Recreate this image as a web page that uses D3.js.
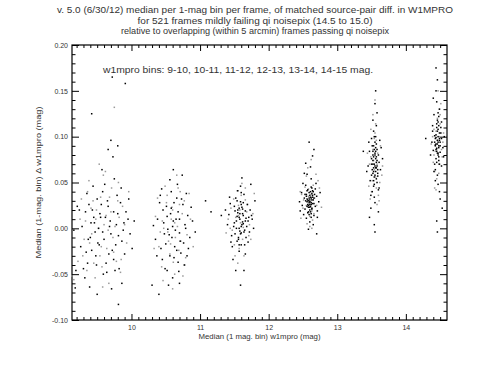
<!DOCTYPE html>
<html>
<head>
<meta charset="utf-8">
<script src="https://cdn.jsdelivr.net/npm/d3@7"></script>
<style>
  body { margin: 0; background: #fff; }
  text { font-family: "Liberation Sans", Arial, sans-serif; fill: #333; }
</style>
</head>
<body>
<div id="chart"></div>
<script>

// title + labels
const titleLines = [
  "v. 5.0 (6/30/12) median per 1-mag bin per frame, of matched source-pair diff. in W1MPRO",
  "for 521 frames mildly failing qi noisepix (14.5 to 15.0)",
  "relative to overlapping (within 5 arcmin) frames passing qi noisepix"
]
const legendText = "w1mpro bins: 9-10, 10-11, 11-12, 12-13, 13-14, 14-15 mag."
const xTitle = "Median (1 mag. bin) w1mpro (mag)"
const yTitle = "Median (1-mag. bin) \u0394 w1mpro (mag)"

const xTicks = [10, 11, 12, 13, 14]
const yTicks = [-0.10, -0.05, 0.00, 0.05, 0.10, 0.15, 0.20]
const yTickLabels = ["-0.10", "-0.05", "0.00", "0.05", "0.10", "0.15", "0.20"]

// points: [median w1mpro, median diff], black and grey per bin
const bin1Black = [[9.55,0.012],[9.70,-0.006],[9.42,-0.024],[9.78,0.004],[9.33,0.018],[9.74,-0.034],[9.50,0.032],[9.86,-0.014],[9.40,-0.010],[9.66,0.024],
  [9.28,0.002],[9.80,0.016],[9.53,-0.018],[9.95,0.010],[9.46,0.006],[9.72,-0.024],[9.36,-0.038],[9.84,0.028],[9.58,0.040],[9.26,-0.020],
  [9.64,-0.048],[9.90,-0.028],[9.44,0.046],[9.75,0.054],[9.32,-0.054],[9.82,-0.044],[9.52,0.000],[9.98,-0.006],[9.24,0.020],[9.60,-0.012],
  [9.79,0.036],[9.38,0.026],[9.48,-0.030],[9.92,0.018],[9.68,0.002],[9.45,0.012],[9.30,-0.044],[9.86,-0.060],[9.57,0.064],[9.96,0.032],
  [9.39,-0.064],[9.73,0.078],[9.66,0.086],[9.21,0.024],[10.01,-0.022],[9.50,-0.072],[9.85,0.044],[9.35,0.038],[9.63,-0.038],[9.56,0.026],
  [9.77,-0.018],[9.47,-0.004],[9.69,0.008],[9.34,-0.026],[9.88,-0.002],[9.59,-0.050],[9.19,-0.046],[9.71,-0.066],[9.16,-0.002],[10.04,0.008],
  [9.65,0.030],[9.41,0.006],[9.81,-0.008],[9.54,0.016],[9.76,-0.046],[9.62,0.012],[9.51,-0.016],[9.67,-0.028],[9.43,0.020],[9.89,0.006],
  [9.58,-0.004],[9.74,0.018],[9.49,-0.040],[9.61,0.048],[9.37,-0.012],
  [9.72,0.165],[9.91,0.158],[9.42,0.125],[9.81,-0.083],[9.18,-0.065],[9.70,0.096],[9.80,0.090]]
const bin1Grey = [[9.60,0.004],[9.49,0.020],[9.73,-0.010],[9.39,-0.016],[9.82,0.012],[9.54,-0.030],[9.68,0.034],[9.33,0.008],[9.78,-0.036],[9.44,0.030],
  [9.57,-0.042],[9.87,0.024],[9.29,-0.030],[9.71,0.044],[9.52,0.000],[9.93,-0.016],[9.36,0.040],[9.64,-0.022],[9.80,0.030],[9.25,0.010],
  [9.47,-0.054],[9.70,0.018],[9.42,-0.006],[9.84,-0.048],[9.59,0.058],[9.22,-0.036],[9.96,0.040],[9.38,0.052],[9.67,-0.060],[9.53,0.070],
  [9.76,0.002],[9.31,-0.012],[9.63,0.014],[9.45,-0.038],[9.90,0.004],[9.13,-0.052],[9.16,-0.056],[9.56,-0.020],[9.81,0.050],[9.41,0.022],
  [9.66,-0.002],[9.55,0.034],[9.35,-0.046],[9.74,-0.026],[9.48,0.010],[9.75,0.132],[9.62,0.062],[9.85,-0.034],[9.27,0.032],[9.58,-0.064]]

const bin2Black = [[10.60,0.002],[10.71,-0.014],[10.52,0.013],[10.79,0.000],[10.43,-0.022],[10.68,0.018],[10.56,-0.030],[10.85,-0.010],[10.47,0.006],[10.75,0.026],
  [10.63,-0.020],[10.38,0.010],[10.55,-0.007],[10.82,0.014],[10.66,0.033],[10.45,-0.034],[10.72,-0.027],[10.89,0.008],[10.35,-0.012],[10.61,0.008],
  [10.51,0.024],[10.77,-0.040],[10.58,0.040],[10.69,-0.047],[10.41,0.028],[10.83,-0.022],[10.49,-0.044],[10.67,0.048],[10.93,-0.004],[10.32,0.003],
  [10.60,-0.054],[10.74,0.058],[10.54,-0.062],[10.64,-0.002],[10.46,0.020],[10.80,0.038],[10.37,-0.030],[10.70,-0.005],[10.57,0.016],[10.76,-0.016],
  [10.50,-0.017],[10.62,0.028],[10.87,0.023],[10.42,0.036],[10.68,-0.037],[10.56,0.053],[10.30,-0.062],[10.40,-0.072],[10.70,-0.060],[11.08,0.030],
  [10.65,0.010],[10.53,-0.001],[10.78,0.004],[10.59,-0.010],[10.48,-0.006],[10.73,0.032],[10.62,-0.032],[10.44,0.043],[11.16,0.018],[10.66,-0.024],
  [10.58,0.022],[10.81,-0.030],[10.52,-0.046],[10.70,0.010],[10.61,0.064]]
const bin2Grey = [[10.63,0.006],[10.54,-0.014],[10.74,0.016],[10.47,0.000],[10.69,-0.024],[10.59,0.023],[10.81,-0.007],[10.40,-0.020],[10.61,-0.037],[10.77,0.030],
  [10.51,0.028],[10.67,0.002],[10.35,0.013],[10.56,-0.028],[10.86,0.010],[10.44,-0.042],[10.71,0.040],[10.63,-0.050],[10.49,0.046],[10.79,-0.032],
  [10.33,-0.022],[10.58,0.010],[10.72,-0.014],[10.53,-0.004],[10.90,-0.020],[10.66,0.058],[10.38,0.033],[10.75,-0.052],[10.60,0.020],[10.46,-0.057],
  [10.70,0.026],[10.57,-0.017],[10.84,0.038],[10.45,0.008],[10.64,-0.010],[10.52,0.036],[10.78,-0.040],[10.68,0.044],[10.42,-0.004],[10.60,-0.066]]

const bin3Black = [[11.58,0.010],[11.65,-0.002],[11.51,0.019],[11.70,0.008],[11.46,-0.008],[11.61,0.023],[11.54,-0.014],[11.75,0.014],[11.49,0.002],[11.67,-0.010],
  [11.59,0.029],[11.42,0.015],[11.72,-0.004],[11.52,0.033],[11.63,0.005],[11.47,-0.020],[11.69,0.026],[11.57,-0.025],[11.78,0.000],[11.40,0.004],
  [11.64,0.037],[11.51,-0.006],[11.60,-0.018],[11.73,0.020],[11.44,0.027],[11.55,0.041],[11.66,-0.028],[11.59,0.046],[11.48,-0.034],[11.71,0.012],
  [11.37,0.020],[11.80,0.030],[11.57,0.000],[11.62,0.016],[11.53,0.008],[11.68,0.002],[11.45,-0.015],[11.60,-0.005],[11.55,0.017],[11.70,-0.015],
  [11.52,-0.046],[11.64,-0.046],[11.59,-0.062],[11.31,0.014],[11.61,0.055],[11.74,0.048],[11.50,0.024],[11.66,0.019],[11.56,-0.010],[11.67,0.011],
  [11.62,0.007],[11.54,0.013],[11.58,-0.003],[11.63,0.028],[11.50,0.006],[11.76,0.010],[11.57,0.022],[11.65,-0.018],[11.43,0.034],[11.60,0.039],
  [11.57,0.012],[11.61,0.004],[11.55,0.020],[11.63,0.014],[11.59,-0.006],[11.53,0.000],[11.66,0.008],[11.60,0.026],[11.56,-0.012],[11.62,0.021],
  [11.58,0.016],[11.64,-0.004],[11.54,0.030],[11.60,0.002],[11.57,-0.018]]
const bin3Grey = [[11.59,0.006],[11.52,0.012],[11.68,0.018],[11.47,-0.002],[11.62,-0.012],[11.72,0.004],[11.56,0.025],[11.41,0.010],[11.66,0.031],[11.50,-0.018],
  [11.60,0.036],[11.71,-0.008],[11.57,-0.022],[11.45,0.022],[11.77,0.016],[11.54,0.041],[11.64,-0.030],[11.38,-0.005],[11.61,0.049],[11.49,0.032],
  [11.69,0.026],[11.56,0.014],[11.79,0.038],[11.51,-0.030],[11.63,0.001],[11.58,0.020],[11.74,-0.012],[11.44,0.000],[11.66,0.044],[11.55,-0.038]]

const bin4Black = [[12.60,0.031],[12.66,0.027],[12.53,0.037],[12.63,0.021],[12.56,0.029],[12.70,0.035],[12.49,0.025],[12.64,0.041],[12.57,0.017],[12.68,0.024],
  [12.52,0.033],[12.62,0.045],[12.55,0.011],[12.73,0.029],[12.46,0.019],[12.59,0.039],[12.66,0.014],[12.54,0.047],[12.63,0.031],[12.58,0.023],
  [12.71,0.019],[12.48,0.039],[12.60,0.007],[12.68,0.043],[12.51,0.015],[12.62,0.054],[12.56,0.059],[12.65,0.004],[12.45,0.029],[12.75,0.039],
  [12.61,0.067],[12.54,0.071],[12.64,0.079],[12.58,-0.001],[12.70,-0.006],[12.62,0.028],[12.55,0.035],[12.64,0.034],[12.60,0.026],[12.58,0.030],
  [12.67,0.037],[12.53,0.021],[12.61,0.018],[12.69,0.049],[12.50,0.049],[12.59,0.033],[12.63,0.038],[12.57,0.026],[12.61,0.024],[12.65,0.031],
  [12.56,0.041],[12.62,0.012],[12.59,0.094],[12.66,0.086],[12.52,0.060],[12.71,0.012],
  [12.59,0.028],[12.62,0.033],[12.57,0.031],[12.64,0.027],[12.60,0.036],[12.56,0.024],[12.63,0.022],[12.61,0.040],[12.58,0.018],[12.66,0.033],
  [12.54,0.030],[12.60,0.020],[12.62,0.026],[12.57,0.042],[12.65,0.040],[12.59,0.015],[12.61,0.034],[12.55,0.037],[12.63,0.044],[12.60,0.029],
  [12.58,0.025],[12.62,0.016],[12.56,0.032],[12.64,0.036],[12.60,0.023]]
const bin4Grey = [[12.61,0.029],[12.55,0.025],[12.67,0.033],[12.51,0.031],[12.63,0.019],[12.58,0.043],[12.70,0.025],[12.48,0.037],[12.60,0.013],[12.65,0.047],
  [12.56,0.005],[12.74,0.044],[12.53,0.045],[12.62,0.037],[12.47,0.011],[12.69,0.059],[12.55,0.057],[12.77,0.023],[12.60,0.002],[12.64,0.009],
  [12.58,0.035],[12.66,0.016],[12.50,0.022],[12.72,0.052],[12.57,0.066],[12.62,0.075],[12.46,0.040],[12.63,0.000]]

const bin5Black = [[13.55,0.068],[13.59,0.057],[13.50,0.076],[13.56,0.084],[13.52,0.060],[13.61,0.072],[13.48,0.052],[13.57,0.092],[13.53,0.046],[13.63,0.064],
  [13.45,0.068],[13.56,0.100],[13.51,0.040],[13.60,0.080],[13.54,0.034],[13.64,0.088],[13.47,0.084],[13.58,0.050],[13.50,0.098],[13.53,0.106],
  [13.61,0.044],[13.43,0.062],[13.66,0.076],[13.55,0.028],[13.57,0.112],[13.52,0.118],[13.58,0.126],[13.55,0.136],[13.49,0.022],[13.60,0.018],
  [13.54,0.004],[13.47,0.012],[13.55,-0.004],[13.38,0.084],[13.56,0.066],[13.52,0.070],[13.59,0.064],[13.53,0.078],[13.50,0.058],[13.58,0.074],
  [13.54,0.086],[13.57,0.054],[13.51,0.090],[13.62,0.096],[13.49,0.036],[13.56,0.150],[13.53,0.062],[13.60,0.042],[13.46,0.094],[13.55,0.080],
  [13.54,0.070],[13.56,0.062],[13.52,0.074],[13.57,0.078],[13.53,0.066],[13.55,0.082],[13.51,0.064],[13.58,0.068],[13.54,0.056],[13.56,0.088],
  [13.52,0.080],[13.59,0.060],[13.55,0.094],[13.53,0.052],[13.57,0.072],[13.50,0.070],[13.56,0.076],[13.54,0.048],[13.58,0.086],[13.53,0.090],
  [13.55,0.058],[13.57,0.066],[13.52,0.084],[13.54,0.100]]
const bin5Grey = [[13.54,0.064],[13.58,0.070],[13.49,0.078],[13.56,0.056],[13.52,0.086],[13.62,0.050],[13.46,0.046],[13.57,0.096],[13.55,0.104],[13.50,0.040],
  [13.63,0.090],[13.48,0.032],[13.56,0.114],[13.52,0.124],[13.60,0.036],[13.44,0.082],[13.55,0.140],[13.58,0.026],[13.65,0.058],[13.49,0.108],
  [13.53,0.074],[13.59,0.082],[13.51,0.052],[13.61,0.030],[13.47,0.070],[13.57,0.044],[13.54,0.098],[13.66,0.068]]

const bin6Black = [[14.46,0.092],[14.50,0.083],[14.42,0.101],[14.47,0.108],[14.44,0.076],[14.52,0.098],[14.40,0.085],[14.49,0.070],[14.45,0.114],[14.54,0.088],
  [14.38,0.094],[14.48,0.122],[14.43,0.064],[14.51,0.104],[14.46,0.058],[14.55,0.078],[14.39,0.106],[14.49,0.130],[14.42,0.070],[14.52,0.116],
  [14.45,0.138],[14.47,0.048],[14.36,0.080],[14.56,0.100],[14.44,0.150],[14.49,0.040],[14.41,0.124],[14.46,0.162],[14.50,0.032],[14.53,0.022],
  [14.45,0.008],[14.29,0.098],[14.44,0.175],[14.40,0.142],[14.48,0.090],[14.45,0.087],[14.49,0.096],[14.43,0.091],[14.47,0.082],[14.50,0.094],
  [14.44,0.099],[14.48,0.074],[14.41,0.062],[14.52,0.068],[14.39,0.112],[14.46,0.118],[14.51,0.110],[14.43,0.052],[14.47,0.126],[14.46,-0.004],
  [14.46,0.096],[14.48,0.088],[14.44,0.092],[14.47,0.100],[14.45,0.084],[14.49,0.104],[14.43,0.098],[14.47,0.080],[14.45,0.110],[14.50,0.090],
  [14.44,0.086],[14.46,0.106],[14.48,0.078],[14.42,0.094],[14.47,0.116],[14.45,0.072],[14.49,0.098],[14.44,0.102],[14.46,0.082],[14.48,0.112],
  [14.43,0.090],[14.47,0.094]]
const bin6Grey = [[14.45,0.088],[14.49,0.100],[14.41,0.080],[14.52,0.086],[14.44,0.106],[14.48,0.070],[14.39,0.100],[14.54,0.094],[14.46,0.120],[14.42,0.062],
  [14.50,0.114],[14.40,0.072],[14.49,0.130],[14.45,0.054],[14.53,0.078],[14.37,0.092],[14.47,0.150],[14.44,0.042],[14.51,0.136],[14.41,0.108],
  [14.46,0.096],[14.55,0.104],[14.43,0.084],[14.48,0.060],[14.50,0.124],[14.42,0.044]]

const greyPts = [].concat(bin1Grey, bin2Grey, bin3Grey, bin4Grey, bin5Grey, bin6Grey)
const blackPts = [].concat(bin1Black, bin2Black, bin3Black, bin4Black, bin5Black, bin6Black)

const margin = {top: 45, right: 44, bottom: 58, left: 72},
    width = 491 - margin.left - margin.right,
    height = 378 - margin.top - margin.bottom;

const svgRoot = d3.select("#chart")
  .append("svg")
    .attr("width", 491)
    .attr("height", 378)

const svg = svgRoot.append("g")
    .attr("transform", `translate(${margin.left},${margin.top})`)

const x = d3.scaleLinear()
  .domain([9.133, 14.6])
  .range([0, width])

const y = d3.scaleLinear()
  .domain([-0.10, 0.20])
  .range([height, 0])

const xMinor = d3.range(9.2, 14.6, 0.1).filter(v => Math.abs(v - Math.round(v)) > 0.01)
const yMinor = d3.range(-0.09, 0.2, 0.01).filter(v => Math.abs(v * 20 - Math.round(v * 20)) > 0.01)

// minor ticks, all four sides
svg.append("g").attr("transform", `translate(0,${height})`)
  .call(d3.axisBottom(x).tickValues(xMinor).tickSize(-3).tickFormat(""))
svg.append("g")
  .call(d3.axisTop(x).tickValues(xMinor).tickSize(-3).tickFormat(""))
svg.append("g")
  .call(d3.axisLeft(y).tickValues(yMinor).tickSize(-3.5).tickFormat(""))
svg.append("g").attr("transform", `translate(${width},0)`)
  .call(d3.axisRight(y).tickValues(yMinor).tickSize(-3.5).tickFormat(""))

// major ticks
svg.append("g").attr("transform", `translate(0,${height})`)
  .call(d3.axisBottom(x).tickValues(xTicks).tickSize(-6).tickPadding(5).tickFormat(d3.format("d")))
svg.append("g")
  .call(d3.axisTop(x).tickValues(xTicks).tickSize(-6).tickFormat(""))
svg.append("g")
  .call(d3.axisLeft(y).tickValues(yTicks).tickSize(-7).tickPadding(4).tickFormat((d, i) => yTickLabels[i]))
svg.append("g").attr("transform", `translate(${width},0)`)
  .call(d3.axisRight(y).tickValues(yTicks).tickSize(-7).tickFormat(""))

svg.selectAll(".domain").remove()
svg.selectAll(".tick line").attr("stroke", "#000")
svg.selectAll(".tick text").style("font-size", "7px").style("font-family", "Liberation Sans, Arial, sans-serif").attr("fill", "#333")

// frame
svg.append("rect")
  .attr("x", 0).attr("y", 0)
  .attr("width", width).attr("height", height)
  .attr("fill", "none").attr("stroke", "#000").attr("stroke-width", 1.2)

// points
const ptSize = 1.5
svg.append("g").selectAll("rect")
  .data(greyPts)
  .join("rect")
    .attr("x", d => x(d[0]) - ptSize / 2)
    .attr("y", d => y(d[1]) - ptSize / 2)
    .attr("width", ptSize).attr("height", ptSize)
    .attr("fill", "#9a9a9a")
svg.append("g").selectAll("rect")
  .data(blackPts)
  .join("rect")
    .attr("x", d => x(d[0]) - ptSize / 2)
    .attr("y", d => y(d[1]) - ptSize / 2)
    .attr("width", ptSize).attr("height", ptSize)
    .attr("fill", "#000")

// note inside plot
svg.append("text")
  .attr("x", 31).attr("y", 28)
  .attr("textLength", 270).attr("lengthAdjust", "spacingAndGlyphs")
  .style("font-size", "8.5px")
  .text(legendText)

// titles
const titleWidths = [396, 235, 268]
svgRoot.selectAll(".title")
  .data(titleLines)
  .join("text")
    .attr("class", "title")
    .attr("x", 255)
    .attr("y", (d, i) => 13 + i * 10.5)
    .attr("text-anchor", "middle")
    .attr("textLength", (d, i) => titleWidths[i])
    .attr("lengthAdjust", "spacingAndGlyphs")
    .style("font-size", "8.5px")
    .text(d => d)

svgRoot.append("text")
  .attr("x", margin.left + width / 2).attr("y", 339)
  .attr("text-anchor", "middle")
  .attr("textLength", 122).attr("lengthAdjust", "spacingAndGlyphs")
  .style("font-size", "7px")
  .text(xTitle)

svgRoot.append("text")
  .attr("transform", `translate(41,${margin.top + height / 2}) rotate(-90)`)
  .attr("text-anchor", "middle")
  .attr("textLength", 152).attr("lengthAdjust", "spacingAndGlyphs")
  .style("font-size", "7px")
  .text(yTitle)

</script>
</body>
</html>
